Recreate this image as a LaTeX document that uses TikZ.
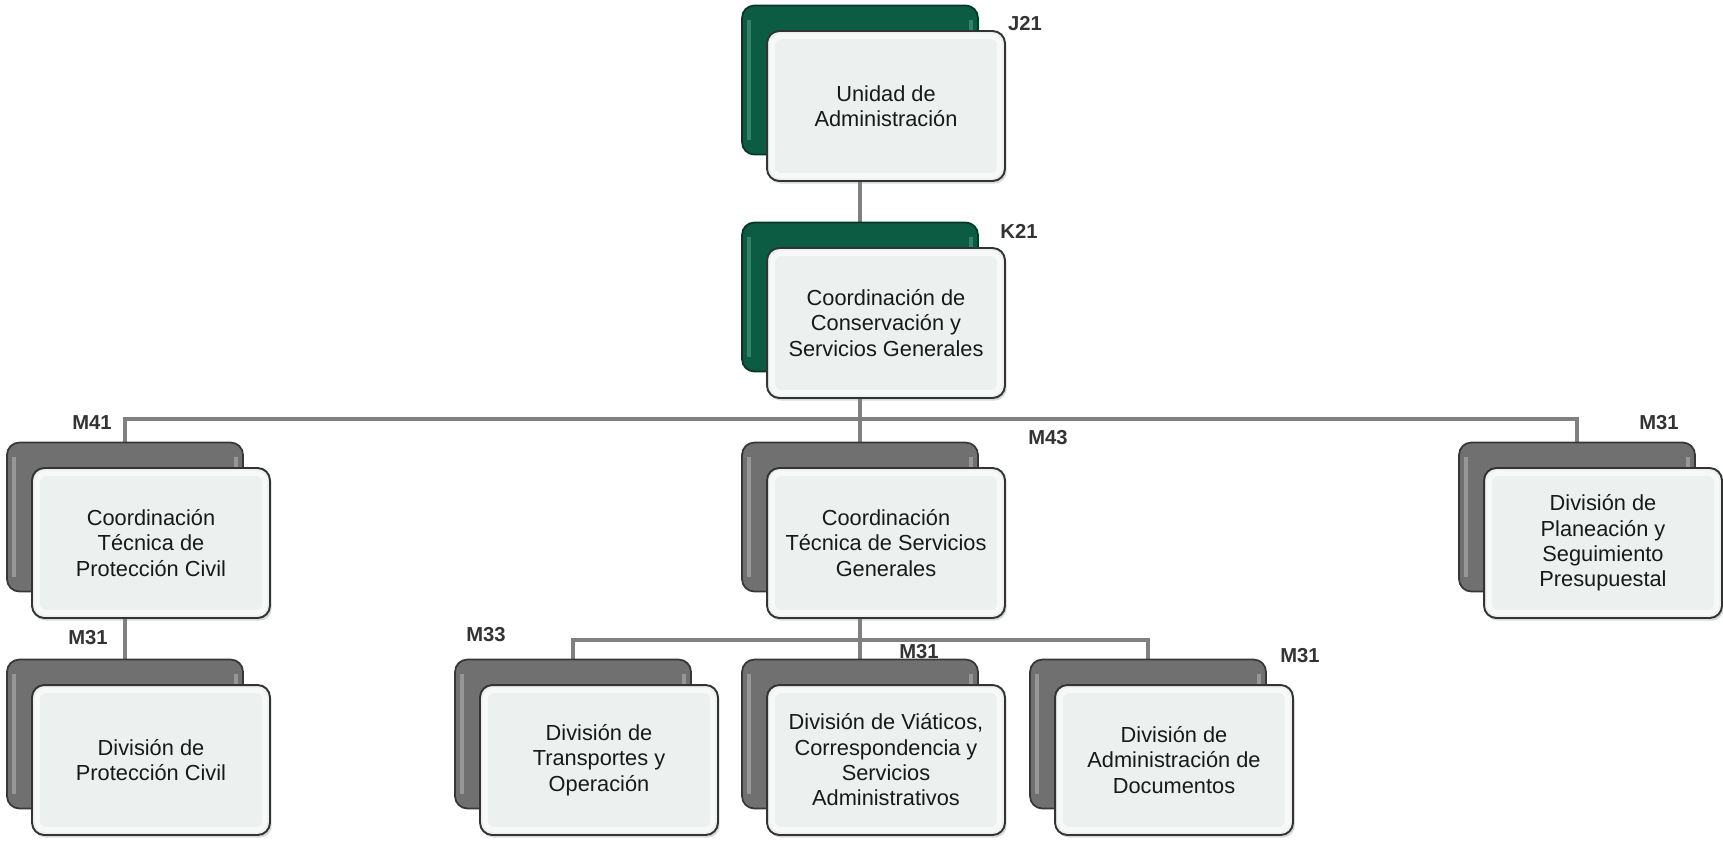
\documentclass[tikz,border=0pt]{standalone}
\usepackage{fontspec}
\setmainfont{Liberation Sans}
\usetikzlibrary{positioning,shadows,backgrounds}
\definecolor{headGreen}{RGB}{12,92,68}
\definecolor{headGreenLine}{RGB}{5,55,40}
\definecolor{headGreenLight}{RGB}{90,170,140}
\definecolor{backGray}{RGB}{112,112,112}
\definecolor{backGrayLine}{RGB}{55,55,55}
\definecolor{backGrayLight}{RGB}{200,200,200}
\definecolor{frontFill}{RGB}{236,240,238}
\definecolor{busGray}{RGB}{128,128,128}
\definecolor{codeGray}{RGB}{51,51,51}
\tikzset{
    backBox/.style={
        rounded corners=7pt,
        minimum width=4.72cm,
        minimum height=2.98cm,
        line width=1pt
    },
    greenBack/.style={backBox, fill=headGreen, draw=headGreenLine,
        path picture={
            \draw[headGreenLight, line width=2pt, opacity=0.5]
                ([shift={(4pt,8pt)}]path picture bounding box.south west) --
                ([shift={(4pt,-8pt)}]path picture bounding box.north west);
            \draw[headGreenLight, line width=2pt, opacity=0.5]
                ([shift={(-4pt,8pt)}]path picture bounding box.south east) --
                ([shift={(-4pt,-8pt)}]path picture bounding box.north east);
        }},
    grayBack/.style={backBox, fill=backGray, draw=backGrayLine,
        path picture={
            \draw[backGrayLight, line width=2pt, opacity=0.45]
                ([shift={(4pt,8pt)}]path picture bounding box.south west) --
                ([shift={(4pt,-8pt)}]path picture bounding box.north west);
            \draw[backGrayLight, line width=2pt, opacity=0.45]
                ([shift={(-4pt,8pt)}]path picture bounding box.south east) --
                ([shift={(-4pt,-8pt)}]path picture bounding box.north east);
        }},
    unitBox/.style={
        draw=black!80,
        rounded corners=7pt,
        fill=frontFill,
        minimum width=4.76cm,
        minimum height=3cm,
        line width=1.1pt,
        align=center,
        text=black!90,
        font=\fontsize{12.4}{14.4}\selectfont,
        drop shadow={shadow xshift=1pt, shadow yshift=-1.5pt, opacity=0.3},
        path picture={
            \draw[white, line width=3pt, rounded corners=5pt, opacity=0.6]
                ([shift={(3pt,3pt)}]path picture bounding box.south west) rectangle
                ([shift={(-3pt,-3pt)}]path picture bounding box.north east);
        }
    },
    codeLabel/.style={font=\fontsize{11.5}{13}\selectfont\bfseries, text=codeGray},
}

\begin{document}
\begin{tikzpicture}[x=0.02cm, y=-0.02cm,
    bus/.style={draw=busGray, line width=2.3pt}
]
    \useasboundingbox (0,0) rectangle (1723,840);

    % Head of the unit
    \node[greenBack] (unidadB) at (860,80) {};
    \node[unitBox] (unidad) at (886,106) {Unidad de\\Administración};
    \node[codeLabel] (unidadC) at (1025,24) {J21};

    \node[greenBack] (conservB) at (860,297) {};
    \node[unitBox] (conserv) at (886,323) {Coordinación de\\Conservación y\\Servicios Generales};
    \node[codeLabel] (conservC) at (1019,231) {K21};

    % Second level
    \node[grayBack] (protCoordB) at (125,517) {};
    \node[unitBox] (protCoord) at (151,543) {Coordinación\\Técnica de\\Protección Civil};
    \node[codeLabel] (protCoordC) at (92,423) {M41};

    \node[grayBack] (servCoordB) at (860,517) {};
    \node[unitBox] (servCoord) at (886,543) {Coordinación\\Técnica de Servicios\\Generales};
    \node[codeLabel] (servCoordC) at (1048,438) {M43};

    \node[grayBack] (presupB) at (1577,517) {};
    \node[unitBox] (presup) at (1603,543) {División de\\Planeación y\\Seguimiento\\Presupuestal};
    \node[codeLabel] (presupC) at (1659,423) {M31};

    % Divisions
    \node[grayBack] (protDivB) at (125,734) {};
    \node[unitBox] (protDiv) at (151,760) {División de\\Protección Civil};
    \node[codeLabel] (protDivC) at (88,638) {M31};

    \node[grayBack] (transB) at (573,734) {};
    \node[unitBox] (trans) at (599,760) {División de\\Transportes y\\Operación};
    \node[codeLabel] (transC) at (486,635) {M33};

    \node[grayBack] (viatB) at (860,734) {};
    \node[unitBox] (viat) at (886,760) {División de Viáticos,\\Correspondencia y\\Servicios\\Administrativos};
    \node[codeLabel] (viatC) at (919,652) {M31};

    \node[grayBack] (docsB) at (1148,734) {};
    \node[unitBox] (docs) at (1174,760) {División de\\Administración de\\Documentos};
    \node[codeLabel] (docsC) at (1300,656) {M31};

    % Connectors
    \begin{scope}[on background layer]
        \coordinate (busTop) at (860,419);
        \coordinate (busLow) at (860,640);
        \draw[bus] (unidadB.south) -- (conservB.north);
        \draw[bus] (conservB.south) -- (busTop);
        \draw[bus] (busTop) -| (protCoordB.north);
        \draw[bus] (busTop) -| (presupB.north);
        \draw[bus] (busTop) -- (servCoordB.north);
        \draw[bus] (protCoordB.south) -- (protDivB.north);
        \draw[bus] (servCoordB.south) -- (busLow);
        \draw[bus] (busLow) -| (transB.north);
        \draw[bus] (busLow) -| (docsB.north);
        \draw[bus] (busLow) -- (viatB.north);
    \end{scope}

\end{tikzpicture}
\end{document}
